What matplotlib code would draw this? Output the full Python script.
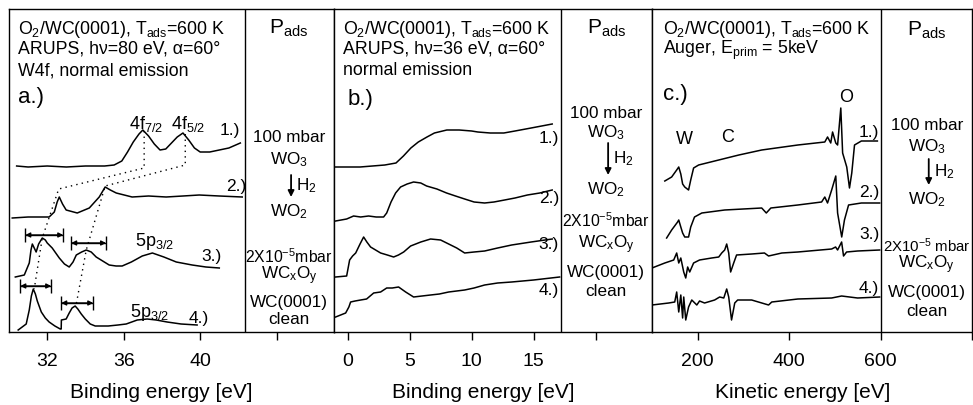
import matplotlib.pyplot as plt

plt.rcParams['font.family'] = ['Liberation Sans', 'DejaVu Sans']
plt.rcParams['mathtext.fontset'] = 'custom'
plt.rcParams['mathtext.rm'] = 'Liberation Sans'
plt.rcParams['mathtext.it'] = 'Liberation Sans:italic'
plt.rcParams['mathtext.default'] = 'regular'

# ---- panel a: W4f, hv=80 eV (binding energy [eV], intensity arb. units)
a1_x = [30.4, 31.0, 32.0, 33.0, 34.0, 35.0, 35.5, 35.9, 36.2, 36.5, 36.8, 37.0, 37.3, 37.6, 37.9,
        38.2, 38.5, 38.8, 39.1, 39.4, 39.7, 40.0, 40.5, 41.0, 41.5, 42.1]
a1_y = [166, 165, 166, 165, 166, 166, 167, 171, 180, 190, 198, 202, 196, 188, 182,
        183, 189, 195, 199, 192, 184, 180, 180, 182, 184, 189]
a2_x = [30.17, 31.0, 32.1, 32.37, 32.52, 32.63, 32.8, 32.99, 33.57, 34.2, 34.72, 35.03, 35.3,
        35.61, 36.44, 37.3, 38.22, 39.1, 39.95, 41.0, 42.2]
a2_y = [114, 115, 115, 120, 130, 135, 128, 122, 119, 124, 135, 145, 142,
        139, 135, 136, 135, 136, 137, 136, 135]
a3_x = [30.33, 30.8, 31.06, 31.15, 31.22, 31.32, 31.42, 31.55, 31.74, 31.9, 32.0, 32.26, 32.63,
        32.9, 33.15, 33.35, 33.52, 33.8, 34.04, 34.3, 34.56, 34.9, 35.24, 35.6, 35.92, 36.4,
        36.97, 37.5, 38.1, 38.75, 39.58, 40.3, 41.0]
a3_y = [55, 57, 69, 82, 88, 84, 80, 88, 94, 92, 89, 84, 74,
        68, 65, 70, 77, 80, 82, 80, 75, 71, 67, 66, 66, 70,
        76, 79, 75, 70, 67, 65, 64]
a4_x = [30.48, 30.9, 31.06, 31.17, 31.27, 31.38, 31.48, 31.69, 31.9, 32.1, 32.4, 32.68, 32.73,
        32.74, 32.99, 33.15, 33.3, 33.46, 33.6, 33.78, 33.99, 34.25, 34.51, 35.19, 35.7, 36.13,
        36.71, 37.23, 37.7, 38.27, 39.0, 39.84]
a4_y = [2, 8, 22, 36, 43, 38, 31, 20, 14, 10, 6, 3, 3,
        12, 13, 19, 24, 26, 23, 18, 13, 8, 6, 6, 7, 8,
        12, 13, 12, 10, 8, 7]
# peak positions linked by dotted guides (4f7/2 and 4f5/2)
guide1_x = [37.07, 37.07, 32.6, 31.74, 31.32]
guide1_y = [201, 164, 143, 94, 43]
guide2_x = [39.22, 39.22, 35.03, 34.04, 33.52]
guide2_y = [198, 167, 146, 82, 28]
# splitting bars (start, end, level)
bar_x0 = [30.85, 33.25, 30.59, 32.73]
bar_x1 = [32.84, 35.08, 32.21, 34.41]
bar_y = [97, 89, 46, 29]

# ---- panel b: valence band, hv=36 eV
b1_x = [-0.97, 0, 1, 2, 3, 3.9, 4.5, 5.1, 5.7, 6.4, 7.0, 8.0, 9.0, 10.0, 10.5, 11.5, 12.6, 13.5, 14.8, 16.5]
b1_y = [165, 165, 165, 166, 167, 169, 176, 184, 190, 195, 199, 202, 202, 201, 200, 199, 199, 201, 204, 208]
b2_x = [-0.97, -0.08, 0.48, 1.05, 1.69, 2.3, 2.9, 3.15, 3.5, 3.87, 4.27, 4.8, 5.32, 5.9, 6.37, 7.2,
        7.98, 8.7, 9.44, 10.2, 11.05, 11.8, 12.66, 13.5, 14.5, 15.5, 16.5]
b2_y = [111, 113, 116, 115, 116, 115, 115, 119, 130, 139, 145, 148, 150, 149, 146, 143,
        139, 136, 133, 130, 129, 130, 132, 134, 137, 139, 142]
b3_x = [-0.97, -0.08, 0.16, 0.4, 0.65, 1.0, 1.29, 1.55, 1.85, 2.66, 3.2, 3.71, 4.1, 4.52, 5.08, 5.9,
        6.69, 7.5, 8.15, 8.8, 9.44, 10.2, 11.05, 12.1, 13.23, 14.8, 16.5]
b3_y = [55, 56, 72, 76, 79, 88, 95, 90, 85, 79, 77, 75, 77, 80, 86, 90,
        93, 92, 88, 84, 79, 80, 81, 84, 87, 90, 93]
b4_x = [-0.97, -0.16, 0.1, 0.24, 0.6, 1.05, 1.53, 2.1, 2.66, 3.15, 3.6, 4.11, 4.68, 5.32, 6.0, 6.69,
        7.4, 8.15, 9.44, 10.2, 11.05, 12.1, 13.23, 15.0, 17.1]
b4_y = [15, 19, 25, 30, 31, 32, 33, 39, 40, 44, 44, 45, 40, 35, 36, 37,
        38, 40, 42, 44, 47, 49, 50, 52, 55]

# ---- panel c: Auger, E_prim = 5 keV (kinetic energy [eV])
c1_x = [128, 143, 154, 158.5, 163, 167, 171.6, 180, 184.7, 191, 202, 246, 290, 340, 419, 478, 484,
        491, 495, 502, 506, 513, 517, 526, 532, 537, 543, 558, 593]
c1_y = [151, 155, 162, 165, 158, 148, 145, 142, 152, 164, 167, 172, 177, 182, 187, 190, 195,
        189, 200, 189, 187, 224, 179, 165, 144, 159, 187, 191, 191]
c2_x = [132, 143, 156, 158.5, 163, 167, 171.6, 180, 184.7, 193, 209, 259, 340, 350, 360, 419, 471,
        478, 484, 493, 502, 506, 515, 521, 530, 558, 598]
c2_y = [94, 102, 110, 112, 105, 99, 95, 95, 105, 115, 119, 122, 124, 119, 124, 127, 130,
        135, 129, 142, 156, 119, 95, 112, 127, 129, 129]
c3_x = [100, 128, 147.5, 154, 158.5, 163, 169.4, 173.8, 178, 182.5, 191, 204, 230.6, 246, 252.5, 259,
        263.4, 267.8, 272, 278.7, 285, 318, 346, 355, 384, 419, 493, 501.6, 506, 514.8, 519, 525.7,
        549.7, 598]
c3_y = [64, 69, 72, 79, 69, 74, 60, 54, 65, 60, 69, 72, 74, 75, 79, 82,
        88, 79, 60, 69, 77, 78, 79, 76, 79, 80, 83, 85, 82, 90, 76, 80,
        81, 82]
c4_x = [100, 136.6, 149.7, 154, 158.5, 163, 167, 169.4, 173.8, 180, 187, 198, 204, 215, 237, 248,
        257, 263.4, 267.8, 274, 281, 287.4, 318, 355, 362, 419, 493, 514.8, 549.7, 598]
c4_y = [27, 29, 30, 40, 20, 37, 14, 35, 12, 25, 32, 27, 31, 29, 32, 35,
        34, 43, 35, 12, 29, 32, 32, 27, 30, 33, 34, 36, 34, 35]

W_PX = 973
H_PX = 405
fig = plt.figure(figsize=(W_PX / 100, H_PX / 100), dpi=100)


def make_axes(left_px, width_px, xlim, divider, ticks, ticklabels, xlabel):
    ax = fig.add_axes([left_px / W_PX, 1 - 332 / H_PX, width_px / W_PX, 323 / H_PX])
    ax.set_xlim(*xlim)
    ax.set_ylim(0, 323)
    ax.set_yticks([])
    ax.set_xticks(ticks)
    ax.set_xticklabels(ticklabels, fontsize=14)
    ax.tick_params(axis='x', direction='out', length=6, width=1, pad=9)
    for sp in ax.spines.values():
        sp.set_linewidth(1.0)
    ax.axvline(divider, color='k', lw=1.0)
    ax.text(0.47, -0.186, xlabel, transform=ax.transAxes, ha='center', va='center', fontsize=15)
    ax.px = (xlim[1] - xlim[0]) / width_px
    return ax


def header(ax, lines, x0):
    for txt, yb in zip(lines, [298, 278, 257]):
        ax.text(x0, yb, txt, ha='left', va='baseline', fontsize=12.8)


def side_column(ax, xc, ys, low_text, low_fs):
    fs = 12.3
    ax.text(xc, ys[0], 'P$_{ads}$', ha='center', va='center', fontsize=15)
    ax.text(xc, ys[1], '100 mbar', ha='center', va='center', fontsize=fs)
    ax.text(xc, ys[2], 'WO$_3$', ha='center', va='center', fontsize=fs)
    ax.annotate('', xy=(xc + 2 * ax.px, ys[4]), xytext=(xc + 2 * ax.px, ys[3]),
                arrowprops=dict(arrowstyle='-|>', color='k', lw=1.3, mutation_scale=9,
                                shrinkA=0, shrinkB=0))
    ax.text(xc + 7 * ax.px, (ys[3] + ys[4]) / 2, 'H$_2$', ha='left', va='center', fontsize=fs)
    ax.text(xc, ys[5], 'WO$_2$', ha='center', va='center', fontsize=fs)
    ax.text(xc, ys[6], low_text, ha='center', va='center', fontsize=low_fs)
    ax.text(xc, ys[7], 'WC$_x$O$_y$', ha='center', va='center', fontsize=fs)
    ax.text(xc, ys[8], 'WC(0001)', ha='center', va='center', fontsize=fs)
    ax.text(xc, ys[9], 'clean', ha='center', va='center', fontsize=fs)


line_kw = dict(color='k', lw=1.1)
lab_fs = 12.5

# ---------------- panel a
ax_a = make_axes(9, 325, (30, 47), 42.35, [32, 36, 40, 44], ['32', '36', '40', ''],
                 'Binding energy [eV]')
for xs, ys in [(a1_x, a1_y), (a2_x, a2_y), (a3_x, a3_y), (a4_x, a4_y)]:
    ax_a.plot(xs, ys, **line_kw)
ax_a.plot(guide1_x, guide1_y, color='k', lw=1.0, ls=(0, (1, 3)))
ax_a.plot(guide2_x, guide2_y, color='k', lw=1.0, ls=(0, (1, 3)))
for x0, x1, y in zip(bar_x0, bar_x1, bar_y):
    ax_a.errorbar((x0 + x1) / 2, y, xerr=(x1 - x0) / 2, fmt='none', ecolor='k',
                  elinewidth=1.0, capsize=5, capthick=1.0)
    ax_a.annotate('', xy=(x0, y), xytext=(x1, y),
                  arrowprops=dict(arrowstyle='<|-|>', color='k', lw=1.0, mutation_scale=7,
                                  shrinkA=0, shrinkB=0))
header(ax_a, ['O$_2$/WC(0001), T$_{ads}$=600 K', 'ARUPS, h\u03bd=80 eV, \u03b1=60\u00b0',
              'W4f, normal emission'], 30.45)
ax_a.text(30.45, 229, 'a.)', ha='left', va='baseline', fontsize=16)
ax_a.text(37.18, 203, '4f$_{7/2}$', ha='center', va='baseline', fontsize=13)
ax_a.text(39.37, 203, '4f$_{5/2}$', ha='center', va='baseline', fontsize=13)
ax_a.text(37.6, 86, '5p$_{3/2}$', ha='center', va='baseline', fontsize=13)
ax_a.text(37.33, 15, '5p$_{3/2}$', ha='center', va='baseline', fontsize=13)
ax_a.text(41.57, 202, '1.)', ha='center', va='center', fontsize=lab_fs)
ax_a.text(41.88, 146, '2.)', ha='center', va='center', fontsize=lab_fs)
ax_a.text(40.58, 75, '3.)', ha='center', va='center', fontsize=lab_fs)
ax_a.text(39.95, 13, '4.)', ha='center', va='center', fontsize=lab_fs)
side_column(ax_a, 44.65, [304, 195, 172, 157, 135, 120, 75, 56, 29, 12],
            '2X10$^{-5}$mbar', 11.3)

# ---------------- panel b
ax_b = make_axes(334, 318, (-1.1, 24.55), 17.18, [0, 5, 10, 15, 20], ['0', '5', '10', '15', ''],
                 'Binding energy [eV]')
for xs, ys in [(b1_x, b1_y), (b2_x, b2_y), (b3_x, b3_y), (b4_x, b4_y)]:
    ax_b.plot(xs, ys, **line_kw)
header(ax_b, ['O$_2$/WC(0001), T$_{ads}$=600 K', 'ARUPS, h\u03bd=36 eV, \u03b1=60\u00b0',
              'normal emission'], -0.4)
ax_b.text(0.0, 227, 'b.)', ha='left', va='baseline', fontsize=16)
for lab, y in zip(['1.)', '2.)', '3.)', '4.)'], [193, 133, 87, 41]):
    ax_b.text(17.05, y, lab, ha='right', va='center', fontsize=lab_fs)
side_column(ax_b, 20.85, [304, 219, 199, 189, 157, 142, 111, 87, 59, 40],
            '2X10$^{-5}$mbar', 11.3)

# ---------------- panel c
ax_c = make_axes(652, 320, (100, 800), 600, [200, 400, 600, 800], ['200', '400', '600', ''],
                 'Kinetic energy [eV]')
for xs, ys in [(c1_x, c1_y), (c2_x, c2_y), (c3_x, c3_y), (c4_x, c4_y)]:
    ax_c.plot(xs, ys, **line_kw)
header(ax_c, ['O$_2$/WC(0001), T$_{ads}$=600 K', 'Auger, E$_{prim}$ = 5keV'], 123)
ax_c.text(123, 232, 'c.)', ha='left', va='baseline', fontsize=16)
ax_c.text(171.6, 192, 'W', ha='center', va='center', fontsize=13)
ax_c.text(265.6, 194, 'C', ha='center', va='center', fontsize=13)
ax_c.text(524, 235, 'O', ha='center', va='center', fontsize=13)
for lab, y in zip(['1.)', '2.)', '3.)', '4.)'], [200, 140, 98, 44]):
    ax_c.text(597, y, lab, ha='right', va='center', fontsize=lab_fs)
side_column(ax_c, 701, [302, 207, 185, 173, 147, 132, 86, 67, 39, 20],
            '2X10$^{-5}$ mbar', 10.8)

fig.savefig('out.png', dpi=100)
